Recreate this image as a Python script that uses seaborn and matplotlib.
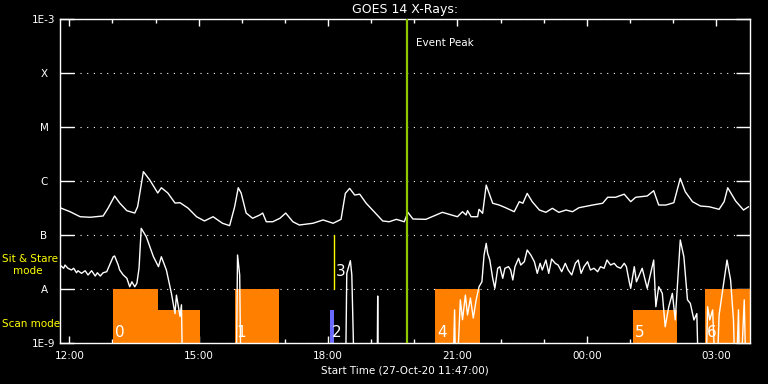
import numpy as np
import pandas as pd
import matplotlib
matplotlib.use("Agg")
import matplotlib.pyplot as plt
import matplotlib.dates as mdates
import matplotlib.ticker as mticker
import seaborn as sns

# GOES 14 long channel (1-8 A), W/m^2
long_times = ["11:47", "12:01", "12:15", "12:29", "12:47", "12:54", "13:03", "13:10", "13:20", "13:31",
              "13:35", "13:43", "13:52", "14:03", "14:08", "14:17", "14:27", "14:34", "14:45", "14:57",
              "15:08", "15:20", "15:33", "15:43", "15:50", "15:55", "15:59", "16:06", "16:15", "16:25",
              "16:29", "16:34", "16:43", "16:53", "17:01", "17:11", "17:20", "17:39", "17:53", "18:07",
              "18:18", "18:24", "18:30", "18:37", "18:44", "18:53", "19:04", "19:16", "19:25", "19:35",
              "19:46", "19:51", "19:58", "20:16", "20:39", "21:00", "21:07", "21:12", "21:14", "21:19",
              "21:28", "21:30", "21:35", "21:40", "21:49", "21:58", "22:07", "22:19", "22:26", "22:31",
              "22:37", "22:44", "22:54", "23:03", "23:12", "23:21", "23:31", "23:40", "23:49", "00:08",
              "00:22", "00:29", "00:40", "00:52", "01:01", "01:08", "01:24", "01:33", "01:40", "01:50",
              "02:01", "02:10", "02:17", "02:27", "02:38", "02:50", "03:04", "03:11", "03:16", "03:27",
              "03:38", "03:45"]
long_flux = [3.2e-7, 2.7e-7, 2.18e-7, 2.13e-7, 2.25e-7, 3.16e-7, 5.28e-7, 3.91e-7, 2.82e-7, 2.55e-7,
             3.34e-7, 1.49e-6, 1.04e-6, 6.0e-7, 7.5e-7, 6.0e-7, 3.91e-7, 3.96e-7, 3.16e-7, 2.18e-7,
             1.82e-7, 2.18e-7, 1.65e-7, 1.49e-7, 3.34e-7, 7.5e-7, 6.0e-7, 2.55e-7, 2.04e-7, 2.35e-7,
             2.55e-7, 1.76e-7, 1.76e-7, 2.04e-7, 2.55e-7, 1.76e-7, 1.53e-7, 1.65e-7, 1.9e-7, 1.65e-7,
             1.95e-7, 5.9e-7, 7.3e-7, 5.5e-7, 5.7e-7, 3.87e-7, 2.7e-7, 1.82e-7, 1.76e-7, 1.95e-7,
             1.76e-7, 2.63e-7, 1.98e-7, 1.95e-7, 2.63e-7, 2.18e-7, 2.7e-7, 2.35e-7, 2.82e-7, 2.18e-7,
             2.18e-7, 2.99e-7, 2.52e-7, 8.4e-7, 3.87e-7, 3.59e-7, 3.2e-7, 2.7e-7, 4.14e-7, 3.87e-7,
             5.9e-7, 4.14e-7, 2.9e-7, 2.63e-7, 3.12e-7, 2.63e-7, 2.9e-7, 2.7e-7, 3.2e-7, 3.59e-7,
             3.87e-7, 5.0e-7, 5.0e-7, 5.7e-7, 4.14e-7, 5.0e-7, 5.28e-7, 6.6e-7, 3.59e-7, 3.59e-7,
             3.96e-7, 1.12e-6, 6.3e-7, 4.14e-7, 3.44e-7, 3.34e-7, 2.99e-7, 4.14e-7, 7.5e-7, 4.26e-7,
             2.9e-7, 3.34e-7]

# GOES 14 short channel (0.5-4 A), W/m^2 (1e-10 = below the plot floor)
short_times = ["11:47", "11:52", "11:54", "11:58", "12:03", "12:06", "12:10", "12:12", "12:17", "12:22",
               "12:26", "12:31", "12:36", "12:39", "12:43", "12:47", "12:52", "12:56", "13:01", "13:03",
               "13:08", "13:10", "13:15", "13:20", "13:24", "13:27", "13:31", "13:34", "13:37", "13:40",
               "13:47", "13:57", "14:04", "14:08", "14:15", "14:22", "14:27", "14:29", "14:34", "14:36",
               "14:38",
               "15:52", "15:54", "15:57", "15:59",
               "18:24", "18:26", "18:31", "18:33", "18:37",
               "19:08", "19:09", "19:10",
               "20:53", "20:56", "20:58", "21:04", "21:07", "21:11", "21:14", "21:18", "21:22", "21:26",
               "21:30", "21:34", "21:37", "21:40", "21:42", "21:45", "21:49", "21:52", "21:56", "21:59",
               "22:03", "22:06", "22:11", "22:14", "22:17", "22:20", "22:25", "22:28", "22:33", "22:37",
               "22:42", "22:47", "22:51", "22:55", "22:58", "23:03", "23:07", "23:11", "23:16", "23:20",
               "23:25", "23:30", "23:34", "23:39", "23:44", "23:48", "23:52", "23:56", "00:01", "00:05",
               "00:10", "00:15", "00:19", "00:24", "00:28", "00:33", "00:38", "00:42", "00:47", "00:52",
               "00:55", "00:59", "01:01", "01:06", "01:09", "01:12",
               "01:17", "01:24", "01:31", "01:33", "01:36", "01:40", "01:45", "01:49", "01:54", "01:59",
               "02:03", "02:10", "02:15", "02:20", "02:24", "02:29", "02:33", "02:36",
               "02:45", "02:48", "02:51", "02:55", "03:00", "03:04", "03:11", "03:15", "03:20", "03:24",
               "03:27", "03:31", "03:33", "03:39", "03:42", "03:45"]
short_flux = [2.78e-8, 2.42e-8, 2.78e-8, 2.42e-8, 2.25e-8, 2.42e-8, 2.0e-8, 2.18e-8, 1.95e-8, 2.18e-8,
              1.82e-8, 2.18e-8, 1.74e-8, 2.0e-8, 1.74e-8, 2.0e-8, 2.09e-8, 2.78e-8, 3.96e-8, 4.08e-8,
              2.78e-8, 2.25e-8, 1.82e-8, 1.58e-8, 1.1e-8, 1.36e-8, 1.1e-8, 1.28e-8, 2.45e-8, 1.33e-7,
              9.3e-8, 3.96e-8, 2.59e-8, 3.96e-8, 2.25e-8, 8.3e-9, 3.5e-9, 7.7e-9, 3.1e-9, 5.1e-9,
              1e-10,
              1e-10, 4.26e-8, 1.82e-8, 1e-10,
              1e-10, 1.95e-8, 3.34e-8, 1.82e-8, 1e-10,
              1e-10, 7.4e-9, 1e-10,
              1e-10, 4.1e-9, 1e-10, 6.3e-9, 2.7e-9, 7.7e-9, 3.3e-9, 6.8e-9, 2.9e-9, 6.3e-9,
              1.1e-8, 1.36e-8, 4.26e-8, 7.0e-8, 4.58e-8, 3.44e-8, 1.58e-8, 1.03e-8, 2.42e-8, 2.59e-8,
              1.58e-8, 2.42e-8, 2.59e-8, 2.25e-8, 1.47e-8, 2.59e-8, 3.7e-8, 2.78e-8, 3.2e-8, 5.27e-8,
              4.26e-8, 3.2e-8, 1.95e-8, 2.99e-8, 2.25e-8, 3.44e-8, 1.95e-8, 3.59e-8, 2.99e-8, 2.78e-8,
              2.09e-8, 2.99e-8, 2.25e-8, 1.82e-8, 2.99e-8, 3.44e-8, 1.95e-8, 2.59e-8, 3.2e-8, 2.25e-8,
              2.42e-8, 2.09e-8, 2.59e-8, 2.42e-8, 3.44e-8, 2.78e-8, 2.99e-8, 2.59e-8, 2.42e-8, 2.99e-8,
              2.59e-8, 1.36e-8, 1.03e-8, 2.59e-8, 1.36e-8, 1.69e-8,
              2.42e-8, 1.03e-8, 2.59e-8, 3.44e-8, 4.7e-9, 1.1e-8, 8.3e-9, 2.0e-9, 4.7e-9, 8.3e-9,
              2.67e-9, 8.1e-8, 3.96e-8, 6.3e-9, 5.4e-9, 2.67e-9, 3.5e-9, 1e-10,
              1e-10, 4.7e-9, 2.67e-9, 4.1e-9, 1e-10, 3.3e-9, 1.47e-8, 3.44e-8, 1.47e-8, 2.67e-9,
              1e-10, 4.1e-9, 1e-10, 6.3e-9, 1e-10, 1e-10]

# observation modes
scan_start = ["13:01", "14:03", "15:50", "18:02", "20:29", "01:04", "02:44"]
scan_end = ["14:03", "15:02", "16:52", "18:08", "21:32", "02:06", "03:47"]
scan_top = [1e-8, 4.1e-9, 1e-8, 4.1e-9, 1e-8, 4.1e-9, 1e-8]
scan_label = ["0", "", "1", "2", "4", "5", "6"]
scan_color = ["#ff8000", "#ff8000", "#ff8000", "#6a6aff", "#ff8000", "#ff8000", "#ff8000"]
sit_time = "18:08"
sit_label = "3"
sit_band = [1e-8, 1e-7]

event_peak = "19:50"
t_start, t_end = "11:47", "03:47"

ytick_vals = [1e-9, 1e-8, 1e-7, 1e-6, 1e-5, 1e-4, 1e-3]
ytick_labels = ["1E-9", "A", "B", "C", "M", "X", "1E-3"]


def to_dt(hm):
    t = pd.Timestamp("2020-10-27 " + hm)
    if t.hour < 11:
        t += pd.Timedelta(days=1)
    return t


sns.set_style("ticks", {"axes.facecolor": "black", "figure.facecolor": "black"})
plt.rcParams["font.family"] = ["DejaVu Sans"]

fig, ax = plt.subplots(figsize=(7.68, 3.84), dpi=100)
fig.subplots_adjust(left=60 / 768, right=750 / 768, top=1 - 19 / 384, bottom=1 - 343 / 384)
ax.set_facecolor("black")
ax.set_yscale("log")

# scan mode blocks
for s, e, top, lab, c in zip(scan_start, scan_end, scan_top, scan_label, scan_color):
    x0 = mdates.date2num(to_dt(s))
    x1 = mdates.date2num(to_dt(e))
    ax.bar(x0, top - 1e-12, width=x1 - x0, bottom=1e-12, align="edge", color=c, linewidth=0, zorder=1)
    if lab:
        ax.annotate(lab, (x0, 1e-9), xytext=(2, 3), textcoords="offset pixels",
                    color="white", fontsize=11, ha="left", va="bottom", zorder=4)

# sit & stare marker
xs = mdates.date2num(to_dt(sit_time))
ax.plot([xs, xs], sit_band, color="yellow", lw=1, zorder=2)
ax.annotate(sit_label, (xs, np.sqrt(sit_band[0] * sit_band[1]) * 0.66), xytext=(2, 0),
            textcoords="offset pixels", color="white", fontsize=11, ha="left", va="center")

long_df = pd.DataFrame({"time": [to_dt(t) for t in long_times], "flux": long_flux})
short_df = pd.DataFrame({"time": [to_dt(t) for t in short_times], "flux": short_flux})
sns.lineplot(data=long_df, x="time", y="flux", ax=ax, color="white", lw=1, estimator=None, sort=False, zorder=3)
sns.lineplot(data=short_df, x="time", y="flux", ax=ax, color="white", lw=1, estimator=None, sort=False, zorder=3)

# event peak
xp = mdates.date2num(to_dt(event_peak))
ax.axvline(xp, color="#8fc800", lw=1.6, zorder=5)
ax.annotate("Event Peak", (xp, 1e-3), xytext=(9, -24), textcoords="offset pixels",
            color="white", fontsize=7.5, ha="left", va="center")

ax.set_xlim(to_dt(t_start), to_dt(t_end))
ax.set_ylim(1e-9, 1e-3)

ax.set_yticks(ytick_vals)
ax.set_yticklabels(ytick_labels)
ax.yaxis.set_minor_locator(mticker.NullLocator())
ax.grid(axis="y", which="major", color="white", linestyle=(0, (1, 5)), linewidth=0.8)
ax.tick_params(axis="y", which="major", direction="in", length=10, width=1, left=True, right=True,
               colors="white", labelsize=7.5, pad=11.5)
for lab in ax.get_yticklabels():
    lab.set_ha("center")

ax.xaxis.set_major_locator(mdates.HourLocator(byhour=range(0, 24, 3)))
ax.xaxis.set_minor_locator(mdates.HourLocator())
ax.xaxis.set_major_formatter(mdates.DateFormatter("%H:%M"))
ax.tick_params(axis="x", which="major", direction="in", length=5, width=1, top=True, bottom=True,
               colors="white", labelsize=7.5, pad=6)
ax.tick_params(axis="x", which="minor", direction="in", length=3, width=1, top=True, bottom=True,
               colors="white")

for sp in ax.spines.values():
    sp.set_color("white")
    sp.set_linewidth(1)

ax.set_xlabel("Start Time (27-Oct-20 11:47:00)", color="white", fontsize=7.5, labelpad=3)
ax.set_ylabel("")
ax.set_title("GOES 14 X-Rays:", color="white", fontsize=9, pad=4)

fig.text(2 / 768, 1 - 259 / 384, "Sit & Stare", color="yellow", fontsize=7.5, ha="left", va="center")
fig.text(13 / 768, 1 - 271 / 384, "mode", color="yellow", fontsize=7.5, ha="left", va="center")
fig.text(2 / 768, 1 - 324 / 384, "Scan mode", color="yellow", fontsize=7.5, ha="left", va="center")

fig.savefig("out.png", dpi=100, facecolor="black")
